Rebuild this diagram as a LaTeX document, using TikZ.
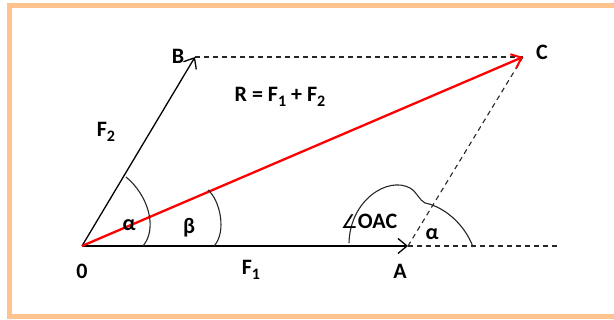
\documentclass[tikz,border=0pt]{standalone}
\usepackage{fontspec}
\setmainfont{Carlito}
\newfontfamily\symfont{DejaVu Sans}
\usetikzlibrary{arrows.meta}
\definecolor{frameorange}{HTML}{FFC38F}
\definecolor{vecred}{HTML}{FF0000}
\newcommand{\lowsub}[1]{\raisebox{-0.22em}{\fontsize{16}{16}\selectfont #1}}
\begin{document}
\begin{tikzpicture}[x=1pt,y=-1pt,
  lbl/.style={font=\bfseries\fontsize{22}{26}\selectfont, inner sep=0pt},
  vec/.style={line width=1.3pt, -{Straight Barb[length=9pt,width=15pt,line width=1.3pt]}},
  redvec/.style={vecred, line width=2.3pt, -{Straight Barb[length=9pt,width=15pt,line width=2pt]}},
  dashline/.style={line width=1.1pt, dash pattern=on 5pt off 4pt, black!85},
  anglearc/.style={line width=1.1pt, black!85}
]
\useasboundingbox (0,0) rectangle (614,320);
\draw[frameorange, line width=5pt] (620,5.5) -- (9.5,5.5) -- (9.5,316.5) -- (620,316.5);
\coordinate (O) at (82,246);
\coordinate (A) at (408,246);
\coordinate (B) at (195,57);
\coordinate (C) at (523,57);
\coordinate (E) at (558,246);
\draw[dashline] (B) -- (C);
\draw[dashline] (A) -- (C);
\draw[dashline] (A) -- (E);
\draw[vec] (O) -- (A);
\draw[vec] (O) -- (B);
\draw[redvec] (O) -- (C);
% angle arcs
\draw[anglearc] (126,177) .. controls (148,195) and (158,228) .. (143,246);
\draw[anglearc] (208,190) .. controls (220,200) and (227,232) .. (214,246);
\draw[anglearc] (349,243) .. controls (350,200) and (388,176) .. (410,188)
   .. controls (417,192) and (419,200) .. (425,203);
\draw[anglearc] (425,203) .. controls (445,207) and (465,225) .. (473,247);
% labels
\node[lbl] (lB) at (178,56) {B};
\node[lbl] (lC) at (542,52) {C};
\node[lbl] (lO) at (82,271) {0};
\node[lbl] (lA) at (400,271) {A};
\node[lbl] (lF1) at (251,270) {F\lowsub{1}};
\node[lbl] (lF2) at (106,132) {F\lowsub{2}};
\node[lbl] (lR) at (280,97) {R = F\lowsub{1} + F\lowsub{2}};
\node[lbl] (la1) at (129,225) {α};
\node[lbl] (lb) at (189,228) {β};
\node[lbl] (lOAC) at (369,221) {{\symfont\mdseries\fontsize{19}{20}\selectfont ∠}OAC};
\node[lbl] (la2) at (432,234) {α};
\end{tikzpicture}
\end{document}
